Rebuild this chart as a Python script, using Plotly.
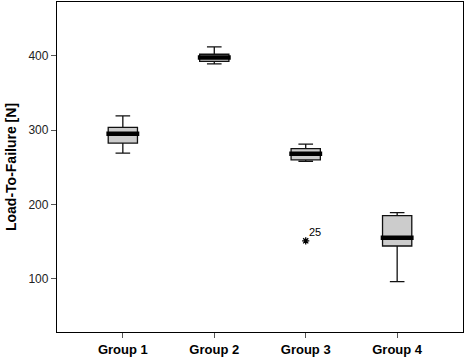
import plotly.graph_objects as go

groups = ["Group 1", "Group 2", "Group 3", "Group 4"]
positions = [0, 1, 2, 3]
lower_whisker = [269, 389, 258, 96]
q1 = [282.5, 392.5, 260, 144]
median = [295, 397.5, 268, 155]
q3 = [303.5, 402, 275, 185]
upper_whisker = [319, 412, 281, 189]
outlier_group = [2]
outlier_value = [151]
outlier_label = ["25"]

FONT = "Liberation Sans, Arial, sans-serif"
box_w = 0.32

fig = go.Figure()
fig.add_trace(go.Box(
    x=positions, q1=q1, median=median, q3=q3,
    lowerfence=lower_whisker, upperfence=upper_whisker,
    width=box_w, whiskerwidth=0.5,
    fillcolor="#cccccc", line=dict(color="#111111", width=1.3),
    boxpoints=False, hoverinfo="skip", showlegend=False,
))

# thick median bars
mx, my = [], []
for p, m in zip(positions, median):
    mx += [p - box_w / 2 - 0.02, p + box_w / 2 + 0.02, None]
    my += [m, m, None]
fig.add_trace(go.Scatter(x=mx, y=my, mode="lines",
                         line=dict(color="black", width=4.5),
                         showlegend=False, hoverinfo="skip"))

fig.add_trace(go.Scatter(
    x=outlier_group, y=outlier_value, mode="markers",
    marker=dict(symbol="asterisk-open", size=6, color="black",
                line=dict(color="black", width=1.3)),
    showlegend=False, hoverinfo="skip"))

for g, v, t in zip(outlier_group, outlier_value, outlier_label):
    fig.add_annotation(x=g, y=v, text=t, showarrow=False,
                       xanchor="left", yanchor="bottom", xshift=1, yshift=1,
                       font=dict(family=FONT, size=11, color="black"))

fig.update_layout(
    width=466, height=358,
    margin=dict(l=57, r=3, t=2, b=26, autoexpand=False),
    plot_bgcolor="white", paper_bgcolor="white",
    font=dict(family=FONT, color="black"),
    xaxis=dict(range=[-0.72, 3.72], tickvals=positions, ticktext=groups,
               showgrid=False, zeroline=False, showline=True, mirror=True,
               linecolor="black", linewidth=1.3, ticks="outside", ticklen=5,
               tickcolor="#555555", automargin=False,
               tickfont=dict(family=FONT, size=13, color="black", weight="bold")),
    yaxis=dict(range=[28.3, 472.3], tickvals=[100, 200, 300, 400],
               showgrid=False, zeroline=False, showline=True, mirror=True,
               linecolor="black", linewidth=1.3, ticks="outside", ticklen=5,
               tickcolor="#555555", automargin=False,
               tickfont=dict(family=FONT, size=12, color="#222222"),
               title=dict(text="<b>Load-To-Failure [N]</b>", standoff=8,
                          font=dict(family=FONT, size=14, color="black"))),
)

fig.write_html("out.html", config={"displayModeBar": False},
               post_script="document.body.style.margin='0';")
